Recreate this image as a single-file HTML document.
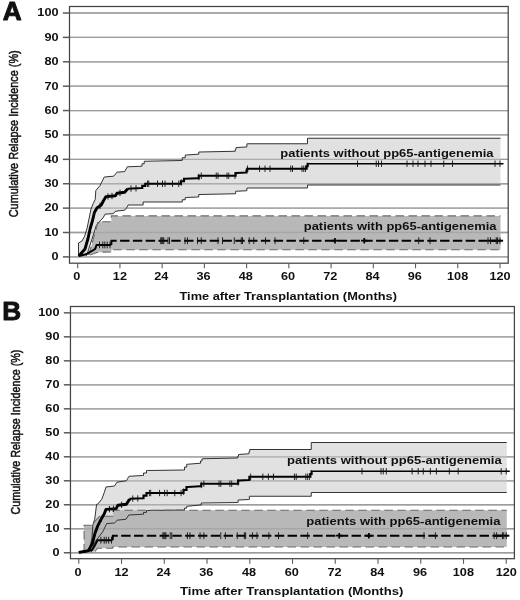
<!DOCTYPE html>
<html lang="en"><head><meta charset="utf-8"><title>Cumulative Relapse Incidence</title>
<style>html,body{margin:0;padding:0;background:#fff}svg{display:block}</style></head>
<body>
<svg width="520" height="600" viewBox="0 0 520 600" font-family="'Liberation Sans', sans-serif" fill="#111">
<rect width="520" height="600" fill="#fff"/>
<line x1="69.5" y1="256.90" x2="508.2" y2="256.90" stroke="#a8a8a8" stroke-width="1.3"/>
<line x1="69.5" y1="232.51" x2="508.2" y2="232.51" stroke="#a8a8a8" stroke-width="1.3"/>
<line x1="69.5" y1="208.12" x2="508.2" y2="208.12" stroke="#a8a8a8" stroke-width="1.3"/>
<line x1="69.5" y1="183.73" x2="508.2" y2="183.73" stroke="#a8a8a8" stroke-width="1.3"/>
<line x1="69.5" y1="159.34" x2="508.2" y2="159.34" stroke="#a8a8a8" stroke-width="1.3"/>
<line x1="69.5" y1="134.95" x2="508.2" y2="134.95" stroke="#a8a8a8" stroke-width="1.3"/>
<line x1="69.5" y1="110.56" x2="508.2" y2="110.56" stroke="#a8a8a8" stroke-width="1.3"/>
<line x1="69.5" y1="86.17" x2="508.2" y2="86.17" stroke="#a8a8a8" stroke-width="1.3"/>
<line x1="69.5" y1="61.78" x2="508.2" y2="61.78" stroke="#a8a8a8" stroke-width="1.3"/>
<line x1="69.5" y1="37.39" x2="508.2" y2="37.39" stroke="#a8a8a8" stroke-width="1.3"/>
<line x1="69.5" y1="13.00" x2="508.2" y2="13.00" stroke="#a8a8a8" stroke-width="1.3"/>
<polygon points="78.50,256.50 78.50,243.00 82.00,241.00 84.50,236.50 87.00,228.50 89.20,218.00 91.00,209.00 93.20,203.50 95.20,199.50 95.80,190.60 100.00,185.50 104.30,177.00 113.70,176.20 117.00,172.20 124.70,171.60 127.30,166.80 141.25,166.25 142.00,166.25 142.00,163.75 144.25,163.75 144.25,161.25 145.00,161.25 181.25,160.50 182.25,160.50 182.25,157.75 185.25,157.75 185.25,155.00 186.25,155.00 197.50,154.25 198.75,154.25 198.75,152.00 200.00,152.00 235.00,151.25 235.25,151.25 235.25,149.38 236.00,149.38 236.00,147.50 236.25,147.50 246.25,147.00 246.88,147.00 246.88,143.75 247.50,143.75 307.50,143.75 307.50,138.25 500.50,138.25 500.50,185.00 307.50,185.00 307.50,188.00 247.50,188.00 246.88,188.00 246.88,190.75 246.25,190.75 236.25,191.25 235.62,191.25 235.62,193.75 235.00,193.75 200.00,194.50 198.75,194.50 198.75,197.00 197.50,197.00 186.25,197.50 185.25,197.50 185.25,199.75 182.25,199.75 182.25,202.00 181.25,202.00 145.00,202.00 143.12,202.00 143.12,205.00 141.25,205.00 128.00,205.00 127.30,206.80 124.70,210.20 117.00,211.00 115.00,211.50 113.50,213.60 105.00,214.20 103.00,218.00 100.00,221.00 96.00,226.00 94.00,233.00 91.00,242.00 87.50,253.00 86.30,255.80" fill="#e1e1e1"/>
<line x1="69.5" y1="256.90" x2="508.2" y2="256.90" stroke="#a8a8a8" stroke-width="1.3" opacity="0.55"/>
<line x1="69.5" y1="232.51" x2="508.2" y2="232.51" stroke="#a8a8a8" stroke-width="1.3" opacity="0.55"/>
<line x1="69.5" y1="208.12" x2="508.2" y2="208.12" stroke="#a8a8a8" stroke-width="1.3" opacity="0.55"/>
<line x1="69.5" y1="183.73" x2="508.2" y2="183.73" stroke="#a8a8a8" stroke-width="1.3" opacity="0.55"/>
<line x1="69.5" y1="159.34" x2="508.2" y2="159.34" stroke="#a8a8a8" stroke-width="1.3" opacity="0.55"/>
<line x1="69.5" y1="134.95" x2="508.2" y2="134.95" stroke="#a8a8a8" stroke-width="1.3" opacity="0.55"/>
<line x1="69.5" y1="110.56" x2="508.2" y2="110.56" stroke="#a8a8a8" stroke-width="1.3" opacity="0.55"/>
<line x1="69.5" y1="86.17" x2="508.2" y2="86.17" stroke="#a8a8a8" stroke-width="1.3" opacity="0.55"/>
<line x1="69.5" y1="61.78" x2="508.2" y2="61.78" stroke="#a8a8a8" stroke-width="1.3" opacity="0.55"/>
<line x1="69.5" y1="37.39" x2="508.2" y2="37.39" stroke="#a8a8a8" stroke-width="1.3" opacity="0.55"/>
<line x1="69.5" y1="13.00" x2="508.2" y2="13.00" stroke="#a8a8a8" stroke-width="1.3" opacity="0.55"/>
<polygon points="88.50,255.00 91.50,246.00 94.60,234.00 96.60,227.00 97.90,221.70 111.30,221.70 111.30,215.90 500.50,215.90 500.50,249.80 111.30,249.80 111.30,252.00 98.50,252.20 94.00,253.50 90.00,255.00" fill="#b8b8b8"/>
<line x1="69.5" y1="256.90" x2="508.2" y2="256.90" stroke="#8a8a8a" stroke-width="1.3" opacity="0.35"/>
<line x1="69.5" y1="232.51" x2="508.2" y2="232.51" stroke="#8a8a8a" stroke-width="1.3" opacity="0.35"/>
<line x1="69.5" y1="208.12" x2="508.2" y2="208.12" stroke="#8a8a8a" stroke-width="1.3" opacity="0.35"/>
<line x1="69.5" y1="183.73" x2="508.2" y2="183.73" stroke="#8a8a8a" stroke-width="1.3" opacity="0.35"/>
<line x1="69.5" y1="159.34" x2="508.2" y2="159.34" stroke="#8a8a8a" stroke-width="1.3" opacity="0.35"/>
<line x1="69.5" y1="134.95" x2="508.2" y2="134.95" stroke="#8a8a8a" stroke-width="1.3" opacity="0.35"/>
<line x1="69.5" y1="110.56" x2="508.2" y2="110.56" stroke="#8a8a8a" stroke-width="1.3" opacity="0.35"/>
<line x1="69.5" y1="86.17" x2="508.2" y2="86.17" stroke="#8a8a8a" stroke-width="1.3" opacity="0.35"/>
<line x1="69.5" y1="61.78" x2="508.2" y2="61.78" stroke="#8a8a8a" stroke-width="1.3" opacity="0.35"/>
<line x1="69.5" y1="37.39" x2="508.2" y2="37.39" stroke="#8a8a8a" stroke-width="1.3" opacity="0.35"/>
<line x1="69.5" y1="13.00" x2="508.2" y2="13.00" stroke="#8a8a8a" stroke-width="1.3" opacity="0.35"/>
<polyline points="78.50,256.50 78.50,243.00 82.00,241.00 84.50,236.50 87.00,228.50 89.20,218.00 91.00,209.00 93.20,203.50 95.20,199.50 95.80,190.60 100.00,185.50 104.30,177.00 113.70,176.20 117.00,172.20 124.70,171.60 127.30,166.80 141.25,166.25 142.00,166.25 142.00,163.75 144.25,163.75 144.25,161.25 145.00,161.25 181.25,160.50 182.25,160.50 182.25,157.75 185.25,157.75 185.25,155.00 186.25,155.00 197.50,154.25 198.75,154.25 198.75,152.00 200.00,152.00 235.00,151.25 235.25,151.25 235.25,149.38 236.00,149.38 236.00,147.50 236.25,147.50 246.25,147.00 246.88,147.00 246.88,143.75 247.50,143.75 307.50,143.75 307.50,138.25 500.50,138.25" fill="none" stroke="#333" stroke-width="1"/>
<polyline points="86.30,255.80 87.50,253.00 91.00,242.00 94.00,233.00 96.00,226.00 100.00,221.00 103.00,218.00 105.00,214.20 113.50,213.60 115.00,211.50 117.00,211.00 124.70,210.20 127.30,206.80 128.00,205.00 141.25,205.00 143.12,205.00 143.12,202.00 145.00,202.00 181.25,202.00 182.25,202.00 182.25,199.75 185.25,199.75 185.25,197.50 186.25,197.50 197.50,197.00 198.75,197.00 198.75,194.50 200.00,194.50 235.00,193.75 235.62,193.75 235.62,191.25 236.25,191.25 246.25,190.75 246.88,190.75 246.88,188.00 247.50,188.00 307.50,188.00 307.50,185.00 500.50,185.00" fill="none" stroke="#333" stroke-width="1"/>
<polyline points="88.50,255.00 91.50,246.00 94.60,234.00 96.60,227.00 97.90,221.70 111.30,221.70 111.30,215.90 500.50,215.90" fill="none" stroke="#6a6a6a" stroke-width="1.1" stroke-dasharray="8.5 4.5"/>
<polyline points="90.00,255.00 94.00,253.50 98.50,252.20 111.30,252.00 111.30,249.80 500.50,249.80" fill="none" stroke="#6a6a6a" stroke-width="1.1" stroke-dasharray="8.5 4.5"/>
<polyline points="78.80,256.00 85.00,249.00 88.00,238.50 90.20,228.50 92.50,220.50 94.40,212.50 97.00,208.00 101.20,205.00 103.60,200.50 106.00,196.60 115.40,195.70 117.00,193.20 124.70,192.30 127.30,189.30 128.00,188.75" fill="none" stroke="#000" stroke-width="2.9" stroke-linejoin="round"/>
<polyline points="128.00,188.75 141.25,188.00 142.25,188.00 142.25,185.88 145.25,185.88 145.25,183.75 146.25,183.75 180.00,183.75 181.00,183.75 181.00,181.25 184.00,181.25 184.00,178.75 185.00,178.75 197.50,178.25 198.75,178.25 198.75,175.75 200.00,175.75 235.00,175.75 235.62,175.75 235.62,173.00 236.25,173.00 246.25,172.50 246.50,172.50 246.50,170.62 247.25,170.62 247.25,168.75 247.50,168.75 306.25,168.75 306.60,168.75 306.60,166.25 307.65,166.25 307.65,163.75 308.00,163.75" fill="none" stroke="#000" stroke-width="2.15" stroke-linejoin="miter"/>
<polyline points="308.00,163.75 500.50,163.75 503.50,163.75" fill="none" stroke="#000" stroke-width="1.6"/>
<polyline points="78.80,256.00 86.00,254.30 92.00,251.00 95.20,248.90 96.60,244.90 111.20,244.90" fill="none" stroke="#000" stroke-width="2"/>
<polyline points="111.20,244.90 111.50,240.70 500.50,240.70" fill="none" stroke="#000" stroke-width="2.1" stroke-dasharray="9.4 3.4"/>
<line x1="488.02" y1="240.7" x2="503.10" y2="240.7" stroke="#000" stroke-width="2"/>
<path d="M94.00 210.98V217.38M100.00 202.66V209.06M108.00 193.21V199.61M112.00 192.83V199.23M120.00 189.65V196.05M131.00 185.38V191.78M136.00 185.10V191.50M147.50 180.55V186.95M148.75 180.55V186.95M157.50 180.55V186.95M162.50 180.55V186.95M165.00 180.55V186.95M172.50 180.55V186.95M178.75 180.55V186.95M181.25 179.30V185.70M198.75 173.80V180.20M201.25 172.55V178.95M216.25 172.55V178.95M218.00 172.55V178.95M227.00 172.55V178.95M228.75 172.55V178.95M235.00 172.55V178.95M247.50 165.55V171.95M259.50 165.55V171.95M265.00 165.55V171.95M270.00 165.55V171.95M290.75 165.55V171.95M292.50 165.55V171.95M302.00 165.55V171.95M303.75 165.55V171.95M305.50 165.55V171.95M357.50 160.55V166.95M376.25 160.55V166.95M378.50 160.55V166.95M381.50 160.55V166.95M407.00 160.55V166.95M413.00 160.55V166.95M418.00 160.55V166.95M425.00 160.55V166.95M431.00 160.55V166.95M443.75 160.55V166.95M452.50 160.55V166.95M495.00 160.55V166.95M500.00 160.55V166.95" stroke="#111" stroke-width="0.9" fill="none"/>
<path d="M99.50 241.50V248.30M102.80 241.50V248.30M104.80 241.50V248.30M107.20 241.50V248.30M110.00 241.50V248.30M160.75 237.30V244.10M161.75 237.30V244.10M162.75 237.30V244.10M163.75 237.30V244.10M168.00 237.30V244.10M169.50 237.30V244.10M185.00 237.30V244.10M187.50 237.30V244.10M197.50 237.30V244.10M201.25 237.30V244.10M218.00 237.30V244.10M222.50 237.30V244.10M234.25 237.30V244.10M241.25 237.30V244.10M242.50 237.30V244.10M249.25 237.30V244.10M253.75 237.30V244.10M265.50 237.30V244.10M275.00 237.30V244.10M303.75 237.30V244.10M418.75 237.30V244.10M430.00 237.30V244.10M488.00 237.30V244.10M490.50 237.30V244.10M496.25 237.30V244.10M497.50 237.30V244.10M500.00 237.30V244.10" stroke="#111" stroke-width="0.9" fill="none"/>
<path d="M335.00 237.90V243.50M331.80 240.70H338.20M364.25 237.90V243.50M361.05 240.70H367.45" stroke="#000" stroke-width="1.7" fill="none"/>
<rect x="69.5" y="6.5" width="438.7" height="256.7" fill="none" stroke="#444" stroke-width="1.25"/>
<line x1="62.9" y1="256.90" x2="69.5" y2="256.90" stroke="#5a5a5a" stroke-width="1.5"/>
<text transform="translate(58.50,260.25) scale(1.22,1)" font-size="10.4" font-weight="bold" text-anchor="end" >0</text>
<line x1="62.9" y1="232.51" x2="69.5" y2="232.51" stroke="#5a5a5a" stroke-width="1.5"/>
<text transform="translate(58.50,235.86) scale(1.22,1)" font-size="10.4" font-weight="bold" text-anchor="end" >10</text>
<line x1="62.9" y1="208.12" x2="69.5" y2="208.12" stroke="#5a5a5a" stroke-width="1.5"/>
<text transform="translate(58.50,211.47) scale(1.22,1)" font-size="10.4" font-weight="bold" text-anchor="end" >20</text>
<line x1="62.9" y1="183.73" x2="69.5" y2="183.73" stroke="#5a5a5a" stroke-width="1.5"/>
<text transform="translate(58.50,187.08) scale(1.22,1)" font-size="10.4" font-weight="bold" text-anchor="end" >30</text>
<line x1="62.9" y1="159.34" x2="69.5" y2="159.34" stroke="#5a5a5a" stroke-width="1.5"/>
<text transform="translate(58.50,162.69) scale(1.22,1)" font-size="10.4" font-weight="bold" text-anchor="end" >40</text>
<line x1="62.9" y1="134.95" x2="69.5" y2="134.95" stroke="#5a5a5a" stroke-width="1.5"/>
<text transform="translate(58.50,138.30) scale(1.22,1)" font-size="10.4" font-weight="bold" text-anchor="end" >50</text>
<line x1="62.9" y1="110.56" x2="69.5" y2="110.56" stroke="#5a5a5a" stroke-width="1.5"/>
<text transform="translate(58.50,113.91) scale(1.22,1)" font-size="10.4" font-weight="bold" text-anchor="end" >60</text>
<line x1="62.9" y1="86.17" x2="69.5" y2="86.17" stroke="#5a5a5a" stroke-width="1.5"/>
<text transform="translate(58.50,89.52) scale(1.22,1)" font-size="10.4" font-weight="bold" text-anchor="end" >70</text>
<line x1="62.9" y1="61.78" x2="69.5" y2="61.78" stroke="#5a5a5a" stroke-width="1.5"/>
<text transform="translate(58.50,65.13) scale(1.22,1)" font-size="10.4" font-weight="bold" text-anchor="end" >80</text>
<line x1="62.9" y1="37.39" x2="69.5" y2="37.39" stroke="#5a5a5a" stroke-width="1.5"/>
<text transform="translate(58.50,40.74) scale(1.22,1)" font-size="10.4" font-weight="bold" text-anchor="end" >90</text>
<line x1="62.9" y1="13.00" x2="69.5" y2="13.00" stroke="#5a5a5a" stroke-width="1.5"/>
<text transform="translate(58.50,16.35) scale(1.22,1)" font-size="10.4" font-weight="bold" text-anchor="end" >100</text>
<line x1="77.70" y1="263.2" x2="77.70" y2="268.3" stroke="#5c5c5c" stroke-width="1.1"/>
<text transform="translate(76.80,280.30) scale(1.22,1)" font-size="10.4" font-weight="bold" text-anchor="middle" >0</text>
<line x1="119.93" y1="263.2" x2="119.93" y2="268.3" stroke="#5c5c5c" stroke-width="1.1"/>
<text transform="translate(119.93,280.30) scale(1.22,1)" font-size="10.4" font-weight="bold" text-anchor="middle" >12</text>
<line x1="162.16" y1="263.2" x2="162.16" y2="268.3" stroke="#5c5c5c" stroke-width="1.1"/>
<text transform="translate(161.36,280.30) scale(1.22,1)" font-size="10.4" font-weight="bold" text-anchor="middle" >24</text>
<line x1="204.38" y1="263.2" x2="204.38" y2="268.3" stroke="#5c5c5c" stroke-width="1.1"/>
<text transform="translate(203.58,280.30) scale(1.22,1)" font-size="10.4" font-weight="bold" text-anchor="middle" >36</text>
<line x1="246.61" y1="263.2" x2="246.61" y2="268.3" stroke="#5c5c5c" stroke-width="1.1"/>
<text transform="translate(245.81,280.30) scale(1.22,1)" font-size="10.4" font-weight="bold" text-anchor="middle" >48</text>
<line x1="288.84" y1="263.2" x2="288.84" y2="268.3" stroke="#5c5c5c" stroke-width="1.1"/>
<text transform="translate(288.04,280.30) scale(1.22,1)" font-size="10.4" font-weight="bold" text-anchor="middle" >60</text>
<line x1="331.07" y1="263.2" x2="331.07" y2="268.3" stroke="#5c5c5c" stroke-width="1.1"/>
<text transform="translate(330.27,280.30) scale(1.22,1)" font-size="10.4" font-weight="bold" text-anchor="middle" >72</text>
<line x1="373.30" y1="263.2" x2="373.30" y2="268.3" stroke="#5c5c5c" stroke-width="1.1"/>
<text transform="translate(372.50,280.30) scale(1.22,1)" font-size="10.4" font-weight="bold" text-anchor="middle" >84</text>
<line x1="415.52" y1="263.2" x2="415.52" y2="268.3" stroke="#5c5c5c" stroke-width="1.1"/>
<text transform="translate(414.72,280.30) scale(1.22,1)" font-size="10.4" font-weight="bold" text-anchor="middle" >96</text>
<line x1="457.75" y1="263.2" x2="457.75" y2="268.3" stroke="#5c5c5c" stroke-width="1.1"/>
<text transform="translate(457.65,280.30) scale(1.22,1)" font-size="10.4" font-weight="bold" text-anchor="middle" >108</text>
<line x1="499.98" y1="263.2" x2="499.98" y2="268.3" stroke="#5c5c5c" stroke-width="1.1"/>
<text transform="translate(499.98,280.30) scale(1.22,1)" font-size="10.4" font-weight="bold" text-anchor="middle" >120</text>
<text x="280.3" y="157" font-size="10.4" font-weight="bold" textLength="213.2" lengthAdjust="spacingAndGlyphs">patients without pp65-antigenemia</text>
<text x="303.75" y="230" font-size="10.4" font-weight="bold" textLength="192.7" lengthAdjust="spacingAndGlyphs">patients with pp65-antigenemia</text>
<text transform="translate(17.8,133.8) rotate(-90) scale(0.825,1)" font-size="13.2" text-anchor="middle" stroke="#111" stroke-width="0.5">Cumulative Relapse Incidence (%)</text>
<text transform="translate(2.7,19.5) scale(1.04,1)" font-size="25.2" font-weight="bold" stroke="#111" stroke-width="0.9" stroke-linejoin="round">A</text>
<text transform="translate(179.50,299.50) scale(1,1)" font-size="10.4" font-weight="bold" text-anchor="start"  textLength="217.4" lengthAdjust="spacingAndGlyphs">Time after Transplantation (Months)</text>
<line x1="70.46" y1="552.75" x2="514.4" y2="552.75" stroke="#a8a8a8" stroke-width="1.3"/>
<line x1="70.46" y1="528.76" x2="514.4" y2="528.76" stroke="#a8a8a8" stroke-width="1.3"/>
<line x1="70.46" y1="504.77" x2="514.4" y2="504.77" stroke="#a8a8a8" stroke-width="1.3"/>
<line x1="70.46" y1="480.78" x2="514.4" y2="480.78" stroke="#a8a8a8" stroke-width="1.3"/>
<line x1="70.46" y1="456.79" x2="514.4" y2="456.79" stroke="#a8a8a8" stroke-width="1.3"/>
<line x1="70.46" y1="432.80" x2="514.4" y2="432.80" stroke="#a8a8a8" stroke-width="1.3"/>
<line x1="70.46" y1="408.81" x2="514.4" y2="408.81" stroke="#a8a8a8" stroke-width="1.3"/>
<line x1="70.46" y1="384.82" x2="514.4" y2="384.82" stroke="#a8a8a8" stroke-width="1.3"/>
<line x1="70.46" y1="360.83" x2="514.4" y2="360.83" stroke="#a8a8a8" stroke-width="1.3"/>
<line x1="70.46" y1="336.84" x2="514.4" y2="336.84" stroke="#a8a8a8" stroke-width="1.3"/>
<line x1="70.46" y1="312.85" x2="514.4" y2="312.85" stroke="#a8a8a8" stroke-width="1.3"/>
<polygon points="86.00,552.40 90.00,547.00 92.00,538.00 92.75,525.20 94.70,519.20 96.60,504.30 97.50,504.30 101.80,499.20 104.30,492.40 106.00,487.00 114.50,486.00 117.00,482.20 126.40,480.80 129.00,476.30 142.50,475.50 143.50,475.50 143.50,473.00 146.50,473.00 146.50,470.50 147.50,470.50 183.75,470.00 184.50,470.00 184.50,467.12 186.75,467.12 186.75,464.25 187.50,464.25 200.00,463.25 200.50,463.25 200.50,461.00 202.00,461.00 202.00,458.75 202.50,458.75 237.50,458.00 237.75,458.00 237.75,456.25 238.50,456.25 238.50,454.50 238.75,454.50 248.75,453.75 249.00,453.75 249.00,451.62 249.75,451.62 249.75,449.50 250.00,449.50 311.25,449.50 311.25,442.50 506.75,442.50 506.75,492.50 311.25,492.50 311.25,496.25 250.00,496.25 249.38,496.25 249.38,499.50 248.75,499.50 238.75,500.00 238.12,500.00 238.12,502.50 237.50,502.50 202.50,503.00 201.25,503.00 201.25,505.00 200.00,505.00 187.50,506.25 186.75,506.25 186.75,508.12 184.50,508.12 184.50,510.00 183.75,510.00 147.50,510.50 146.50,510.50 146.50,512.38 143.50,512.38 143.50,514.25 142.50,514.25 128.75,515.00 126.00,519.20 117.30,520.20 114.40,523.00 106.70,523.60 102.80,531.70 94.70,542.30 91.00,552.40" fill="#e1e1e1"/>
<line x1="70.46" y1="552.75" x2="514.4" y2="552.75" stroke="#a8a8a8" stroke-width="1.3" opacity="0.55"/>
<line x1="70.46" y1="528.76" x2="514.4" y2="528.76" stroke="#a8a8a8" stroke-width="1.3" opacity="0.55"/>
<line x1="70.46" y1="504.77" x2="514.4" y2="504.77" stroke="#a8a8a8" stroke-width="1.3" opacity="0.55"/>
<line x1="70.46" y1="480.78" x2="514.4" y2="480.78" stroke="#a8a8a8" stroke-width="1.3" opacity="0.55"/>
<line x1="70.46" y1="456.79" x2="514.4" y2="456.79" stroke="#a8a8a8" stroke-width="1.3" opacity="0.55"/>
<line x1="70.46" y1="432.80" x2="514.4" y2="432.80" stroke="#a8a8a8" stroke-width="1.3" opacity="0.55"/>
<line x1="70.46" y1="408.81" x2="514.4" y2="408.81" stroke="#a8a8a8" stroke-width="1.3" opacity="0.55"/>
<line x1="70.46" y1="384.82" x2="514.4" y2="384.82" stroke="#a8a8a8" stroke-width="1.3" opacity="0.55"/>
<line x1="70.46" y1="360.83" x2="514.4" y2="360.83" stroke="#a8a8a8" stroke-width="1.3" opacity="0.55"/>
<line x1="70.46" y1="336.84" x2="514.4" y2="336.84" stroke="#a8a8a8" stroke-width="1.3" opacity="0.55"/>
<line x1="70.46" y1="312.85" x2="514.4" y2="312.85" stroke="#a8a8a8" stroke-width="1.3" opacity="0.55"/>
<polygon points="84.10,552.40 84.10,525.20 92.75,525.20 96.00,520.00 99.50,516.30 112.90,516.30 112.90,510.20 506.75,510.20 506.75,547.00 112.90,547.00 112.50,548.20 97.50,548.20 95.00,551.50" fill="#b8b8b8"/>
<line x1="70.46" y1="552.75" x2="514.4" y2="552.75" stroke="#8a8a8a" stroke-width="1.3" opacity="0.35"/>
<line x1="70.46" y1="528.76" x2="514.4" y2="528.76" stroke="#8a8a8a" stroke-width="1.3" opacity="0.35"/>
<line x1="70.46" y1="504.77" x2="514.4" y2="504.77" stroke="#8a8a8a" stroke-width="1.3" opacity="0.35"/>
<line x1="70.46" y1="480.78" x2="514.4" y2="480.78" stroke="#8a8a8a" stroke-width="1.3" opacity="0.35"/>
<line x1="70.46" y1="456.79" x2="514.4" y2="456.79" stroke="#8a8a8a" stroke-width="1.3" opacity="0.35"/>
<line x1="70.46" y1="432.80" x2="514.4" y2="432.80" stroke="#8a8a8a" stroke-width="1.3" opacity="0.35"/>
<line x1="70.46" y1="408.81" x2="514.4" y2="408.81" stroke="#8a8a8a" stroke-width="1.3" opacity="0.35"/>
<line x1="70.46" y1="384.82" x2="514.4" y2="384.82" stroke="#8a8a8a" stroke-width="1.3" opacity="0.35"/>
<line x1="70.46" y1="360.83" x2="514.4" y2="360.83" stroke="#8a8a8a" stroke-width="1.3" opacity="0.35"/>
<line x1="70.46" y1="336.84" x2="514.4" y2="336.84" stroke="#8a8a8a" stroke-width="1.3" opacity="0.35"/>
<line x1="70.46" y1="312.85" x2="514.4" y2="312.85" stroke="#8a8a8a" stroke-width="1.3" opacity="0.35"/>
<polyline points="86.00,552.40 90.00,547.00 92.00,538.00 92.75,525.20 94.70,519.20 96.60,504.30 97.50,504.30 101.80,499.20 104.30,492.40 106.00,487.00 114.50,486.00 117.00,482.20 126.40,480.80 129.00,476.30 142.50,475.50 143.50,475.50 143.50,473.00 146.50,473.00 146.50,470.50 147.50,470.50 183.75,470.00 184.50,470.00 184.50,467.12 186.75,467.12 186.75,464.25 187.50,464.25 200.00,463.25 200.50,463.25 200.50,461.00 202.00,461.00 202.00,458.75 202.50,458.75 237.50,458.00 237.75,458.00 237.75,456.25 238.50,456.25 238.50,454.50 238.75,454.50 248.75,453.75 249.00,453.75 249.00,451.62 249.75,451.62 249.75,449.50 250.00,449.50 311.25,449.50 311.25,442.50 506.75,442.50" fill="none" stroke="#333" stroke-width="1"/>
<polyline points="91.00,552.40 94.70,542.30 102.80,531.70 106.70,523.60 114.40,523.00 117.30,520.20 126.00,519.20 128.75,515.00 142.50,514.25 143.50,514.25 143.50,512.38 146.50,512.38 146.50,510.50 147.50,510.50 183.75,510.00 184.50,510.00 184.50,508.12 186.75,508.12 186.75,506.25 187.50,506.25 200.00,505.00 201.25,505.00 201.25,503.00 202.50,503.00 237.50,502.50 238.12,502.50 238.12,500.00 238.75,500.00 248.75,499.50 249.38,499.50 249.38,496.25 250.00,496.25 311.25,496.25 311.25,492.50 506.75,492.50" fill="none" stroke="#333" stroke-width="1"/>
<polyline points="84.10,552.40 84.10,525.20 92.75,525.20 96.00,520.00 99.50,516.30 112.90,516.30 112.90,510.20 506.75,510.20" fill="none" stroke="#6a6a6a" stroke-width="1.1" stroke-dasharray="8.5 4.5"/>
<polyline points="95.00,551.50 97.50,548.20 112.50,548.20 112.90,547.00 506.75,547.00" fill="none" stroke="#6a6a6a" stroke-width="1.1" stroke-dasharray="8.5 4.5"/>
<polyline points="78.80,552.40 88.40,550.80 92.40,543.40 95.00,533.20 97.50,526.40 100.90,519.60 104.30,513.70 106.00,509.40 116.20,508.60 117.90,505.20 126.40,504.30 129.00,500.00 129.50,500.00 129.50,498.75" fill="none" stroke="#000" stroke-width="2.9" stroke-linejoin="round"/>
<polyline points="129.50,498.75 130.00,498.75 142.50,498.25 143.50,498.25 143.50,495.62 146.50,495.62 146.50,493.00 147.50,493.00 182.50,493.00 183.50,493.00 183.50,490.00 186.50,490.00 186.50,487.00 187.50,487.00 200.00,486.25 201.25,486.25 201.25,483.75 202.50,483.75 237.50,483.75 238.12,483.75 238.12,480.50 238.75,480.50 248.75,480.00 249.38,480.00 249.38,476.75 250.00,476.75 310.00,476.75 310.40,476.75 310.40,474.00 311.60,474.00 311.60,471.25 312.00,471.25" fill="none" stroke="#000" stroke-width="2.15" stroke-linejoin="miter"/>
<polyline points="312.00,471.25 506.75,471.25 509.75,471.25" fill="none" stroke="#000" stroke-width="1.6"/>
<polyline points="78.80,552.40 92.00,550.00 94.10,546.80 97.50,540.20 112.50,540.20" fill="none" stroke="#000" stroke-width="2"/>
<polyline points="112.50,540.20 112.90,535.70 506.75,535.70" fill="none" stroke="#000" stroke-width="2.1" stroke-dasharray="9.4 3.4"/>
<line x1="494.13" y1="535.7" x2="509.35" y2="535.7" stroke="#000" stroke-width="2"/>
<path d="M95.30 529.19V535.59M101.37 515.58V521.98M109.47 505.93V512.33M113.52 505.61V512.01M121.62 501.61V508.01M132.75 495.44V501.84M137.81 495.24V501.64M149.45 489.80V496.20M150.72 489.80V496.20M159.58 489.80V496.20M164.64 489.80V496.20M167.17 489.80V496.20M174.76 489.80V496.20M181.08 489.80V496.20M183.62 488.46V494.86M201.33 481.72V488.12M203.86 480.55V486.95M219.04 480.55V486.95M220.81 480.55V486.95M229.92 480.55V486.95M231.70 480.55V486.95M238.02 479.19V485.59M250.67 473.55V479.95M262.82 473.55V479.95M268.39 473.55V479.95M273.45 473.55V479.95M294.45 473.55V479.95M296.22 473.55V479.95M305.84 473.55V479.95M307.61 473.55V479.95M309.38 473.55V479.95M362.02 468.05V474.45M381.00 468.05V474.45M383.28 468.05V474.45M386.31 468.05V474.45M412.12 468.05V474.45M418.20 468.05V474.45M423.26 468.05V474.45M430.34 468.05V474.45M436.42 468.05V474.45M449.32 468.05V474.45M458.18 468.05V474.45M501.20 468.05V474.45M506.26 468.05V474.45" stroke="#111" stroke-width="0.9" fill="none"/>
<path d="M100.87 536.80V543.60M104.21 536.80V543.60M106.23 536.80V543.60M108.66 536.80V543.60M111.49 536.80V543.60M162.86 532.30V539.10M163.88 532.30V539.10M164.89 532.30V539.10M165.90 532.30V539.10M170.20 532.30V539.10M171.72 532.30V539.10M187.41 532.30V539.10M189.94 532.30V539.10M200.06 532.30V539.10M203.86 532.30V539.10M220.81 532.30V539.10M225.37 532.30V539.10M237.26 532.30V539.10M244.35 532.30V539.10M245.61 532.30V539.10M252.45 532.30V539.10M257.00 532.30V539.10M268.89 532.30V539.10M278.51 532.30V539.10M307.61 532.30V539.10M424.02 532.30V539.10M435.40 532.30V539.10M494.11 532.30V539.10M496.64 532.30V539.10M502.46 532.30V539.10M503.73 532.30V539.10M506.26 532.30V539.10" stroke="#111" stroke-width="0.9" fill="none"/>
<path d="M339.24 532.90V538.50M336.04 535.70H342.44M368.85 532.90V538.50M365.65 535.70H372.05" stroke="#000" stroke-width="1.7" fill="none"/>
<rect x="70.46" y="306.5" width="443.94" height="252.20000000000005" fill="none" stroke="#444" stroke-width="1.25"/>
<line x1="63.85999999999999" y1="552.75" x2="70.46" y2="552.75" stroke="#5a5a5a" stroke-width="1.5"/>
<text transform="translate(59.46,556.10) scale(1.22,1)" font-size="10.4" font-weight="bold" text-anchor="end" >0</text>
<line x1="63.85999999999999" y1="528.76" x2="70.46" y2="528.76" stroke="#5a5a5a" stroke-width="1.5"/>
<text transform="translate(59.46,532.11) scale(1.22,1)" font-size="10.4" font-weight="bold" text-anchor="end" >10</text>
<line x1="63.85999999999999" y1="504.77" x2="70.46" y2="504.77" stroke="#5a5a5a" stroke-width="1.5"/>
<text transform="translate(59.46,508.12) scale(1.22,1)" font-size="10.4" font-weight="bold" text-anchor="end" >20</text>
<line x1="63.85999999999999" y1="480.78" x2="70.46" y2="480.78" stroke="#5a5a5a" stroke-width="1.5"/>
<text transform="translate(59.46,484.13) scale(1.22,1)" font-size="10.4" font-weight="bold" text-anchor="end" >30</text>
<line x1="63.85999999999999" y1="456.79" x2="70.46" y2="456.79" stroke="#5a5a5a" stroke-width="1.5"/>
<text transform="translate(59.46,460.14) scale(1.22,1)" font-size="10.4" font-weight="bold" text-anchor="end" >40</text>
<line x1="63.85999999999999" y1="432.80" x2="70.46" y2="432.80" stroke="#5a5a5a" stroke-width="1.5"/>
<text transform="translate(59.46,436.15) scale(1.22,1)" font-size="10.4" font-weight="bold" text-anchor="end" >50</text>
<line x1="63.85999999999999" y1="408.81" x2="70.46" y2="408.81" stroke="#5a5a5a" stroke-width="1.5"/>
<text transform="translate(59.46,412.16) scale(1.22,1)" font-size="10.4" font-weight="bold" text-anchor="end" >60</text>
<line x1="63.85999999999999" y1="384.82" x2="70.46" y2="384.82" stroke="#5a5a5a" stroke-width="1.5"/>
<text transform="translate(59.46,388.17) scale(1.22,1)" font-size="10.4" font-weight="bold" text-anchor="end" >70</text>
<line x1="63.85999999999999" y1="360.83" x2="70.46" y2="360.83" stroke="#5a5a5a" stroke-width="1.5"/>
<text transform="translate(59.46,364.18) scale(1.22,1)" font-size="10.4" font-weight="bold" text-anchor="end" >80</text>
<line x1="63.85999999999999" y1="336.84" x2="70.46" y2="336.84" stroke="#5a5a5a" stroke-width="1.5"/>
<text transform="translate(59.46,340.19) scale(1.22,1)" font-size="10.4" font-weight="bold" text-anchor="end" >90</text>
<line x1="63.85999999999999" y1="312.85" x2="70.46" y2="312.85" stroke="#5a5a5a" stroke-width="1.5"/>
<text transform="translate(59.46,316.20) scale(1.22,1)" font-size="10.4" font-weight="bold" text-anchor="end" >100</text>
<line x1="78.80" y1="558.7" x2="78.80" y2="563.8000000000001" stroke="#5c5c5c" stroke-width="1.1"/>
<text transform="translate(77.90,575.70) scale(1.22,1)" font-size="10.4" font-weight="bold" text-anchor="middle" >0</text>
<line x1="121.54" y1="558.7" x2="121.54" y2="563.8000000000001" stroke="#5c5c5c" stroke-width="1.1"/>
<text transform="translate(121.54,575.70) scale(1.22,1)" font-size="10.4" font-weight="bold" text-anchor="middle" >12</text>
<line x1="164.29" y1="558.7" x2="164.29" y2="563.8000000000001" stroke="#5c5c5c" stroke-width="1.1"/>
<text transform="translate(163.49,575.70) scale(1.22,1)" font-size="10.4" font-weight="bold" text-anchor="middle" >24</text>
<line x1="207.03" y1="558.7" x2="207.03" y2="563.8000000000001" stroke="#5c5c5c" stroke-width="1.1"/>
<text transform="translate(206.23,575.70) scale(1.22,1)" font-size="10.4" font-weight="bold" text-anchor="middle" >36</text>
<line x1="249.78" y1="558.7" x2="249.78" y2="563.8000000000001" stroke="#5c5c5c" stroke-width="1.1"/>
<text transform="translate(248.98,575.70) scale(1.22,1)" font-size="10.4" font-weight="bold" text-anchor="middle" >48</text>
<line x1="292.52" y1="558.7" x2="292.52" y2="563.8000000000001" stroke="#5c5c5c" stroke-width="1.1"/>
<text transform="translate(291.72,575.70) scale(1.22,1)" font-size="10.4" font-weight="bold" text-anchor="middle" >60</text>
<line x1="335.26" y1="558.7" x2="335.26" y2="563.8000000000001" stroke="#5c5c5c" stroke-width="1.1"/>
<text transform="translate(334.46,575.70) scale(1.22,1)" font-size="10.4" font-weight="bold" text-anchor="middle" >72</text>
<line x1="378.01" y1="558.7" x2="378.01" y2="563.8000000000001" stroke="#5c5c5c" stroke-width="1.1"/>
<text transform="translate(377.21,575.70) scale(1.22,1)" font-size="10.4" font-weight="bold" text-anchor="middle" >84</text>
<line x1="420.75" y1="558.7" x2="420.75" y2="563.8000000000001" stroke="#5c5c5c" stroke-width="1.1"/>
<text transform="translate(419.95,575.70) scale(1.22,1)" font-size="10.4" font-weight="bold" text-anchor="middle" >96</text>
<line x1="463.50" y1="558.7" x2="463.50" y2="563.8000000000001" stroke="#5c5c5c" stroke-width="1.1"/>
<text transform="translate(463.40,575.70) scale(1.22,1)" font-size="10.4" font-weight="bold" text-anchor="middle" >108</text>
<line x1="506.24" y1="558.7" x2="506.24" y2="563.8000000000001" stroke="#5c5c5c" stroke-width="1.1"/>
<text transform="translate(506.24,575.70) scale(1.22,1)" font-size="10.4" font-weight="bold" text-anchor="middle" >120</text>
<text x="287" y="463.75" font-size="10.4" font-weight="bold" textLength="214.75" lengthAdjust="spacingAndGlyphs">patients without pp65-antigenemia</text>
<text x="306.25" y="525" font-size="10.4" font-weight="bold" textLength="194.25" lengthAdjust="spacingAndGlyphs">patients with pp65-antigenemia</text>
<text transform="translate(19.6,432) rotate(-90) scale(0.815,1)" font-size="13.2" text-anchor="middle" stroke="#111" stroke-width="0.5">Cumulative Relapse Incidence (%)</text>
<text transform="translate(2.2,320) scale(1.04,1)" font-size="25.2" font-weight="bold" stroke="#111" stroke-width="0.9" stroke-linejoin="round">B</text>
<text transform="translate(180.00,594.70) scale(1,1)" font-size="10.4" font-weight="bold" text-anchor="start"  textLength="223.5" lengthAdjust="spacingAndGlyphs">Time after Transplantation (Months)</text>
</svg>
</body></html>
